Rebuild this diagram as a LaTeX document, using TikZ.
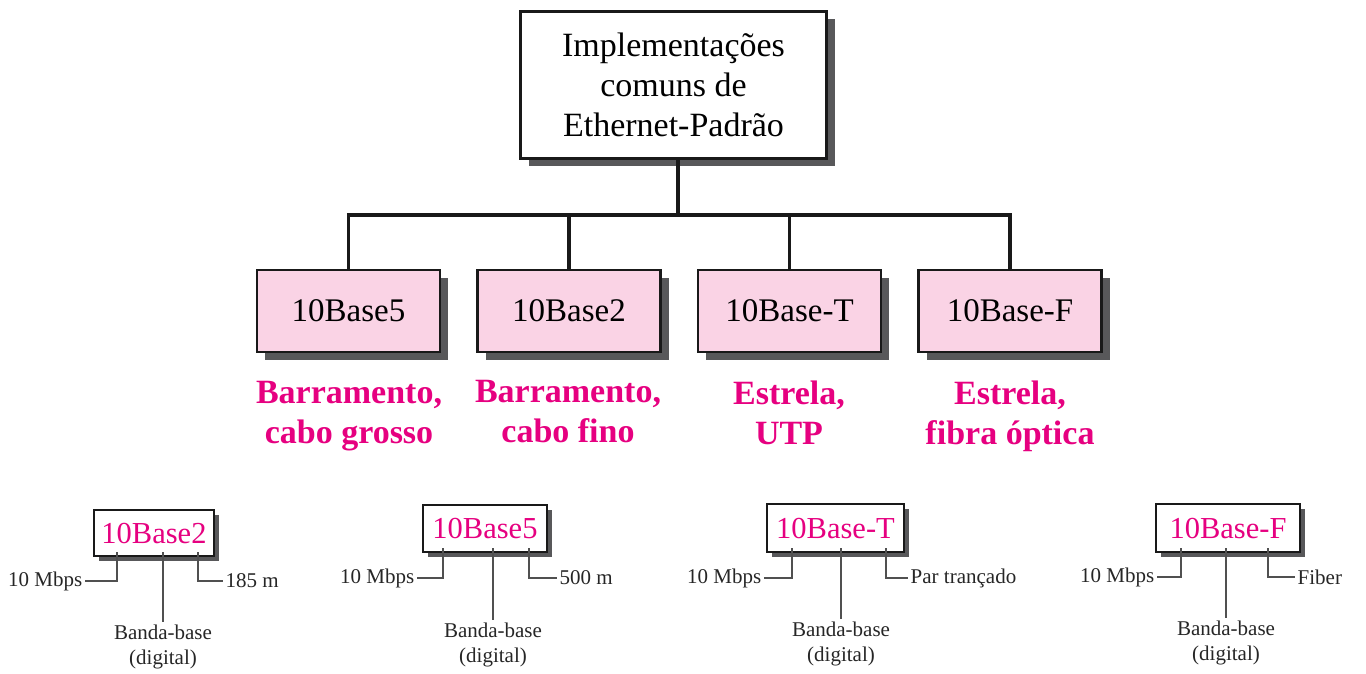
\documentclass[tikz,border=0pt]{standalone}
\usepackage{fontspec}
\setmainfont{Liberation Serif}
\usetikzlibrary{shadows,calc}
\definecolor{mag}{RGB}{230,0,128}
\definecolor{pinkfill}{RGB}{250,211,229}
\definecolor{shadowgray}{RGB}{88,88,90}
\definecolor{leadgray}{RGB}{80,80,80}
\begin{document}
\begin{tikzpicture}[x=1pt,y=-1pt,
  bigbox/.style={draw=black!90, line width=3pt, fill=white, minimum width=306pt, minimum height=147pt,
    align=center, font=\fontsize{34}{40}\selectfont, inner sep=0pt,
    drop shadow={shadow xshift=8pt, shadow yshift=-8pt, fill=shadowgray, opacity=1}},
  typebox/.style={draw=black!90, line width=2.6pt, fill=pinkfill, minimum width=183pt, minimum height=82pt,
    font=\fontsize{33}{40}\selectfont, inner sep=0pt,
    drop shadow={shadow xshift=8pt, shadow yshift=-8pt, fill=shadowgray, opacity=1}},
  lab/.style={anchor=north, align=center, text=mag, font=\bfseries\fontsize{34}{40}\selectfont, inner sep=0pt},
  smallbox/.style={draw=black!90, line width=2pt, fill=white, text=mag, font=\fontsize{30.5}{36}\selectfont,
    inner sep=0pt,
    drop shadow={shadow xshift=5pt, shadow yshift=-5pt, fill=shadowgray, opacity=1}},
  small/.style={font=\fontsize{21}{25}\selectfont, inner sep=2.5pt, text=black!85},
  leader/.style={draw=leadgray, line width=1.3pt},
  conn/.style={line width=3.2pt, draw=black!90}
]
\useasboundingbox (0,0) rectangle (1366,673);

% top
\node[bigbox] (top) at (673.5,84.5) {Implementações\\comuns de\\Ethernet-Padrão};

\node[typebox] (b1) at (348.5,311) {10Base5};
\node[typebox] (b2) at (569,311) {10Base2};
\node[typebox] (b3) at (789.5,311) {10Base-T};
\node[typebox] (b4) at (1010,311) {10Base-F};

\coordinate (bus) at (678,215);
\draw[conn] (bus |- top.south) -- (bus);
\draw[conn] ($(b1.north |- bus)+(-1.6,0)$) -- ($(b4.north |- bus)+(1.6,0)$);
\draw[conn] (b1.north |- bus) -- (b1.north);
\draw[conn] (b2.north |- bus) -- (b2.north);
\draw[conn] (b3.north |- bus) -- (b3.north);
\draw[conn] (b4.north |- bus) -- (b4.north);

\node[lab] (l1) at (349,381) {Barramento,\\cabo grosso};
\node[lab] (l2) at (568,380) {Barramento,\\cabo fino};
\node[lab] (l3) at (789,381) {Estrela,\\UTP};
\node[lab] (l4) at (1010,381) {Estrela,\\fibra óptica};

% bottom diagrams
\node[smallbox, minimum width=120pt, minimum height=46pt] (d1) at (154,533) {10Base2};
\node[smallbox, minimum width=124pt, minimum height=47pt] (d2) at (485,528.5) {10Base5};
\node[smallbox, minimum width=137pt, minimum height=48pt] (d3) at (835.5,528) {10Base-T};
\node[smallbox, minimum width=144pt, minimum height=48pt] (d4) at (1228,528) {10Base-F};

% diagram 1
\node[small, anchor=east] (m1) at (85,581) {10 Mbps};
\node[small, anchor=west] (r1) at (223,581) {185 m};
\node[small, anchor=north, align=center] (c1) at (163,622) {Banda-base\\(digital)};
\coordinate (d1a) at (117,552);
\coordinate (d1b) at (163,552);
\coordinate (d1c) at (198,552);
\draw[leader] (d1a) |- (m1.east);
\draw[leader] (d1b) -- (c1.north);
\draw[leader] (d1c) |- (r1.west);

% diagram 2
\node[small, anchor=east] (m2) at (417,578) {10 Mbps};
\node[small, anchor=west] (r2) at (557,578) {500 m};
\node[small, anchor=north, align=center] (c2) at (493,620) {Banda-base\\(digital)};
\coordinate (d2a) at (443,548);
\coordinate (d2b) at (493,548);
\coordinate (d2c) at (529,548);
\draw[leader] (d2a) |- (m2.east);
\draw[leader] (d2b) -- (c2.north);
\draw[leader] (d2c) |- (r2.west);

% diagram 3
\node[small, anchor=east] (m3) at (764,578) {10 Mbps};
\node[small, anchor=west] (r3) at (908,578) {Par trançado};
\node[small, anchor=north, align=center] (c3) at (841,619) {Banda-base\\(digital)};
\coordinate (d3a) at (792,548);
\coordinate (d3b) at (841,548);
\coordinate (d3c) at (886,548);
\draw[leader] (d3a) |- (m3.east);
\draw[leader] (d3b) -- (c3.north);
\draw[leader] (d3c) |- (r3.west);

% diagram 4
\node[small, anchor=east] (m4) at (1157,577) {10 Mbps};
\node[small, anchor=west] (r4) at (1295,577) {Fiber};
\node[small, anchor=north, align=center] (c4) at (1226,618) {Banda-base\\(digital)};
\coordinate (d4a) at (1181,548);
\coordinate (d4b) at (1226,548);
\coordinate (d4c) at (1268,548);
\draw[leader] (d4a) |- (m4.east);
\draw[leader] (d4b) -- (c4.north);
\draw[leader] (d4c) |- (r4.west);
\end{tikzpicture}
\end{document}
